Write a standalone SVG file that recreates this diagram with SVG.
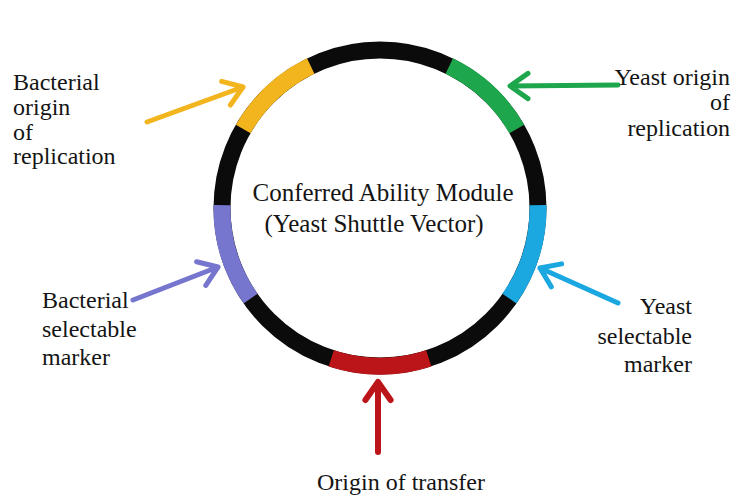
<svg xmlns="http://www.w3.org/2000/svg" width="734" height="496" viewBox="0 0 734 496">
<style>
text{font-family:"Liberation Serif","Times New Roman",serif;fill:#141414}
.ring{fill:none;stroke:#0b0b0b;stroke-width:17}
.seg{fill:none;stroke-width:17}
.lbl{font-size:24px}
.title{font-size:25px;text-anchor:middle}
.arr{fill:none;stroke-width:5;stroke-linecap:round;stroke-linejoin:round}
.yel{stroke:#f2b51e}
.grn{stroke:#1ea64c}
.cyn{stroke:#1ba7e0}
.red{stroke:#bb1419}
.pur{stroke:#7676cf}
.end{text-anchor:end}
.mid{text-anchor:middle}
</style>
<rect x="0" y="0" width="734" height="496" fill="#ffffff"/>
<g id="plasmid">
  <circle class="ring" cx="380" cy="208" r="158"/>
  <path id="seg-bacterial-ori" class="seg yel" d="M243.2,129 A158,158 0 0 1 310.7,66"/>
  <path id="seg-yeast-ori" class="seg grn" d="M449.3,66 A158,158 0 0 1 516.8,129"/>
  <path id="seg-yeast-marker" class="seg cyn" d="M538,205.2 A158,158 0 0 1 509.4,298.6"/>
  <path id="seg-transfer" class="seg red" d="M428.8,358.3 A158,158 0 0 1 331.2,358.3"/>
  <path id="seg-bacterial-marker" class="seg pur" d="M250.6,298.6 A158,158 0 0 1 222,205.2"/>
  <text class="title" x="383" y="201">Conferred Ability Module</text>
  <text class="title" x="374" y="232">(Yeast Shuttle Vector)</text>
</g>
<g id="connectors">
  <path class="arr yel" d="M147,122 L243,87 M221.7,81.3 L243,87 L230.4,105"/>
  <path class="arr grn" d="M618,85 L510,86 M528,73.4 L510,86 L528,98.6"/>
  <path class="arr pur" d="M133,300 L218,267 M196.6,261.7 L218,267 L205.8,285.3"/>
  <path class="arr cyn" d="M618,303 L540,268 M561.6,263.9 L540,268 L551.3,286.9"/>
  <path class="arr red" style="stroke-width:6" d="M378,452 L378,382 M365.4,400 L378,382 L390.6,400"/>
</g>
<g id="label-bacterial-ori">
  <text class="lbl" x="13" y="90">Bacterial</text>
  <text class="lbl" x="13" y="115">origin</text>
  <text class="lbl" x="13" y="140">of</text>
  <text class="lbl" x="13" y="164">replication</text>
</g>
<g id="label-yeast-ori">
  <text class="lbl end" x="730" y="85">Yeast origin</text>
  <text class="lbl end" x="730" y="110">of</text>
  <text class="lbl end" x="730" y="136">replication</text>
</g>
<g id="label-bacterial-marker">
  <text class="lbl" x="42" y="308">Bacterial</text>
  <text class="lbl" x="42" y="337">selectable</text>
  <text class="lbl" x="42" y="365">marker</text>
</g>
<g id="label-yeast-marker">
  <text class="lbl end" x="692" y="314">Yeast</text>
  <text class="lbl end" x="692" y="344">selectable</text>
  <text class="lbl end" x="692" y="372">marker</text>
</g>
<g id="label-transfer">
  <text class="lbl mid" x="401" y="490">Origin of transfer</text>
</g>
</svg>
